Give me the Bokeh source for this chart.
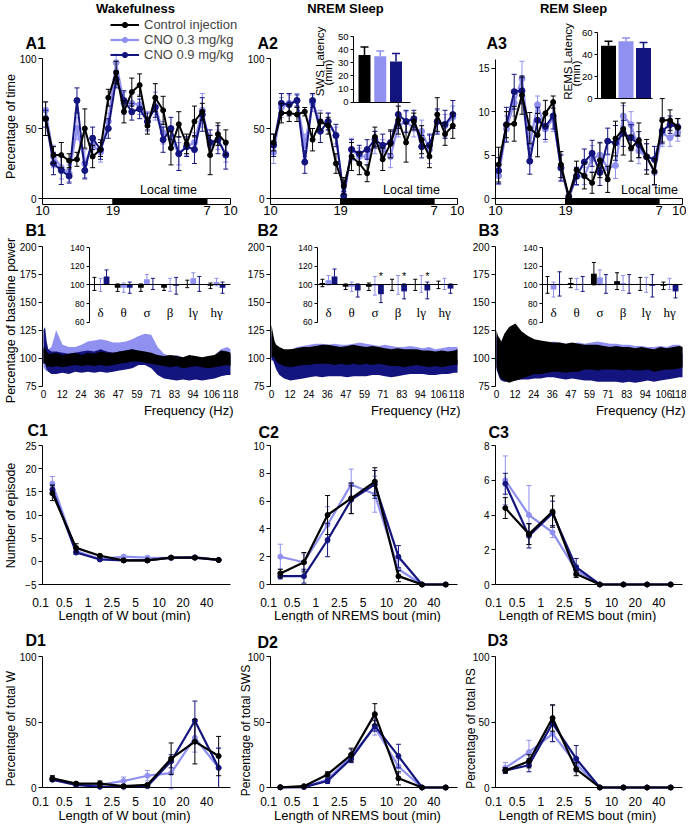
import math
import numpy as np
from bokeh.plotting import figure
from bokeh.models import Range1d, LinearAxis, FixedTicker, Legend, LegendItem
from bokeh.layouts import column, row
from bokeh.embed import file_html
from bokeh.resources import INLINE
from bokeh.core.properties import value

# ---------------------------------------------------------------- data
groups = ["Control injection", "CNO 0.3 mg/kg", "CNO 0.9 mg/kg"]

hour_bins = list(range(24))                 # hours after 10:00
time_ticks = [0, 9, 21, 24]
time_tick_labels = ["10", "19", "7", "10"]
phase_start = [0, 9, 21]
phase_end = [9, 21, 24]

# A1 wakefulness (% of time)
a1_ctrl = [57, 31, 31, 27, 28, 50, 30, 35, 72, 90, 62, 76, 81, 52, 72, 63, 36, 53, 39, 55, 62, 31, 46, 40]
a1_ctrl_err = [12, 6, 9, 5, 5, 14, 8, 5, 6, 8, 8, 10, 8, 6, 10, 10, 12, 9, 7, 11, 6, 14, 8, 9]
a1_low = [63, 30, 22, 18, 50, 25, 38, 33, 55, 97, 68, 68, 67, 55, 66, 47, 43, 32, 37, 40, 63, 38, 42, 32]
a1_low_err = [6, 8, 8, 6, 8, 10, 7, 7, 6, 6, 8, 8, 7, 7, 10, 8, 8, 8, 6, 7, 12, 8, 7, 6]
a1_high = [57, 25, 20, 16, 70, 20, 43, 35, 50, 85, 70, 62, 64, 55, 65, 42, 50, 32, 37, 35, 60, 40, 42, 31]
a1_high_err = [6, 8, 10, 5, 9, 6, 8, 7, 7, 6, 7, 6, 7, 6, 7, 9, 8, 12, 7, 10, 12, 9, 10, 10]

# A2 NREM sleep (% of time)
a2_ctrl = [40, 61, 61, 60, 62, 42, 55, 52, 25, 9, 30, 25, 18, 44, 28, 39, 56, 40, 55, 42, 30, 60, 46, 52]
a2_ctrl_err = [6, 7, 6, 5, 3, 8, 6, 6, 7, 6, 10, 8, 6, 7, 8, 10, 10, 14, 6, 10, 8, 12, 8, 9]
a2_low = [33, 65, 68, 70, 38, 68, 55, 55, 45, 0, 35, 30, 30, 40, 35, 30, 52, 55, 50, 48, 35, 55, 52, 58]
a2_low_err = [8, 7, 6, 5, 8, 6, 8, 6, 6, 4, 8, 6, 6, 8, 7, 8, 8, 7, 6, 8, 10, 8, 8, 8]
a2_high = [38, 68, 67, 70, 26, 70, 48, 55, 45, 2, 35, 32, 35, 42, 38, 40, 60, 55, 57, 37, 38, 55, 53, 60]
a2_high_err = [8, 7, 8, 4, 8, 5, 8, 6, 8, 3, 7, 6, 7, 6, 8, 8, 10, 8, 6, 8, 8, 9, 10, 10]

# A3 REM sleep (% of time)
a3_ctrl = [3.9, 8.5, 8.6, 11.9, 8.1, 7.3, 9.8, 11.1, 3.9, 0.3, 3.3, 2.6, 1.8, 4.4, 2.2, 6.9, 8.0, 5.8, 6.7, 4.8, 3.1, 9.0, 9.0, 8.2]
a3_ctrl_err = [2, 1.5, 2, 2.2, 1.8, 2.5, 1.5, 0.7, 1.5, 0.5, 1, 1.5, 1.2, 2, 1.5, 2, 3, 1.5, 2, 2, 1.5, 2.5, 1.2, 1]
a3_low = [2.6, 8.0, 11.0, 13.8, 6.3, 10.8, 8.0, 9.2, 3.6, 0.0, 2.5, 2.6, 4.6, 5.0, 3.5, 3.8, 9.5, 8.5, 5.5, 4.8, 3.0, 7.5, 7.0, 7.6]
a3_low_err = [1, 1.5, 1.5, 2, 1.5, 1, 1.5, 1.5, 1.5, 0.3, 1, 1, 1.5, 1.5, 1.5, 1.5, 1.2, 1.5, 1.5, 1.5, 1.5, 1.5, 1, 1]
a3_high = [3.2, 8.5, 12.3, 12.4, 4.3, 9.0, 8.3, 9.5, 3.5, 0.2, 2.6, 4.2, 5.2, 3.0, 6.6, 6.4, 7.5, 7.0, 6.2, 4.8, 4.5, 7.8, 8.5, 8.2]
a3_high_err = [1.5, 2, 2, 1.5, 1.5, 1.5, 1.5, 1.5, 1.5, 0.3, 1, 1.5, 1.5, 1.5, 1.5, 2, 1.5, 1.5, 1.5, 1.5, 1.5, 1.5, 1, 1]

# latency insets (min)
sws_latency = [36, 35, 31]
sws_latency_err = [6, 4, 6]
rems_latency = [48, 52, 46]
rems_latency_err = [4, 3, 5]
sws_lat_ticks = [0, 10, 20, 30, 40, 50]
rems_lat_ticks = [0, 20, 40, 60]

# B spectra (% of baseline power): lower / upper envelope of the traces
freq_hz = [0, 1, 2, 3, 5, 8, 12, 16, 20, 24, 28, 32, 36, 40, 44, 48, 52, 56, 60, 64,
           68, 72, 76, 80, 84, 88, 92, 96, 100, 104, 108, 112, 116, 118]
freq_ticks = [0, 11.8, 23.6, 35.4, 47.2, 59, 70.8, 82.6, 94.4, 106.2, 118]
freq_tick_labels = ["0", "12", "24", "36", "47", "59", "71", "83", "94", "106", "118"]
power_ticks = [75, 100, 125, 150, 175, 200]

b1_ctrl_lo = [95, 96, 92, 93, 92, 93, 92, 93, 94, 93, 94, 93, 94, 93, 94, 95, 96, 97, 97, 96, 95, 94, 93, 92, 93, 91, 92, 93, 92, 91, 92, 93, 94, 93]
b1_ctrl_hi = [108, 110, 106, 104, 104, 105, 103, 104, 105, 103, 105, 104, 106, 105, 105, 106, 107, 108, 107, 106, 105, 103, 102, 103, 102, 101, 103, 102, 101, 102, 103, 107, 106, 105]
b1_low_lo = [92, 90, 88, 90, 92, 95, 96, 97, 96, 98, 100, 101, 102, 100, 99, 100, 101, 102, 104, 105, 104, 95, 91, 90, 89, 88, 89, 90, 89, 88, 90, 94, 95, 94]
b1_low_hi = [110, 112, 110, 108, 110, 125, 112, 110, 110, 112, 115, 116, 117, 116, 114, 114, 115, 117, 120, 122, 121, 110, 104, 102, 103, 101, 102, 101, 100, 101, 103, 108, 110, 108]
b1_high_lo = [95, 95, 90, 88, 86, 86, 87, 86, 88, 87, 88, 87, 88, 87, 88, 89, 90, 91, 94, 94, 91, 85, 82, 81, 80, 81, 80, 81, 80, 81, 82, 84, 85, 85]
b1_high_hi = [125, 128, 115, 108, 106, 106, 105, 104, 105, 106, 107, 106, 108, 106, 105, 106, 107, 108, 106, 105, 104, 99, 97, 96, 97, 95, 96, 97, 96, 97, 98, 103, 104, 103]

b2_ctrl_lo = [100, 102, 100, 97, 95, 93, 92, 93, 94, 94, 95, 95, 95, 94, 95, 94, 95, 94, 95, 94, 95, 94, 93, 93, 92, 93, 94, 93, 92, 93, 92, 93, 94, 94]
b2_ctrl_hi = [130, 122, 115, 112, 110, 108, 108, 109, 110, 110, 111, 112, 112, 111, 110, 111, 112, 111, 110, 111, 110, 109, 108, 109, 108, 108, 108, 107, 107, 106, 107, 106, 107, 108]
b2_low_lo = [98, 100, 97, 94, 90, 88, 87, 87, 88, 88, 89, 89, 90, 89, 89, 88, 89, 89, 88, 89, 90, 89, 88, 88, 88, 89, 90, 89, 88, 89, 90, 89, 90, 90]
b2_low_hi = [125, 120, 114, 110, 108, 106, 107, 110, 111, 112, 113, 113, 112, 113, 112, 112, 113, 114, 113, 112, 111, 112, 111, 110, 110, 111, 110, 109, 110, 108, 109, 110, 110, 110]
b2_high_lo = [98, 98, 94, 90, 85, 82, 80, 81, 82, 83, 84, 83, 84, 84, 84, 83, 84, 84, 84, 85, 85, 84, 83, 84, 85, 86, 86, 86, 85, 85, 86, 86, 87, 87]
b2_high_hi = [120, 115, 110, 104, 100, 96, 94, 94, 95, 95, 96, 96, 96, 95, 96, 95, 96, 96, 96, 97, 98, 96, 95, 96, 97, 98, 98, 98, 97, 97, 98, 98, 99, 99]

b3_ctrl_lo = [92, 88, 84, 82, 80, 78, 80, 82, 84, 86, 86, 87, 88, 88, 87, 88, 88, 90, 90, 89, 90, 90, 90, 89, 90, 89, 89, 90, 88, 89, 90, 90, 91, 92]
b3_ctrl_hi = [125, 120, 118, 115, 122, 128, 131, 124, 120, 117, 116, 115, 114, 114, 113, 114, 113, 112, 112, 112, 111, 110, 111, 110, 110, 109, 110, 109, 108, 110, 109, 110, 111, 110]
b3_low_lo = [95, 90, 86, 84, 84, 84, 85, 86, 86, 86, 87, 86, 87, 87, 86, 87, 88, 88, 88, 88, 89, 90, 91, 90, 90, 90, 89, 90, 90, 89, 90, 90, 91, 90]
b3_low_hi = [122, 118, 114, 112, 114, 120, 125, 120, 116, 114, 114, 114, 115, 114, 113, 113, 114, 113, 114, 115, 114, 113, 113, 112, 112, 111, 111, 110, 110, 111, 110, 112, 112, 110]
b3_high_lo = [90, 86, 82, 80, 79, 79, 80, 81, 81, 82, 82, 83, 83, 82, 81, 82, 81, 80, 80, 79, 79, 79, 79, 78, 79, 78, 79, 80, 79, 80, 81, 82, 83, 83]
b3_high_hi = [120, 112, 108, 106, 108, 112, 115, 112, 108, 107, 106, 106, 107, 106, 105, 104, 104, 103, 102, 101, 100, 100, 100, 99, 100, 99, 100, 100, 100, 101, 102, 103, 104, 104]

# B insets: band power (% of baseline)
bands = ["δ", "θ", "σ", "β", "lγ", "hγ"]
band_pos = [0, 1, 2, 3, 4, 5]
inset_power_ticks = [60, 80, 100, 120, 140]
b1_band_ctrl = [101, 97, 97, 97, 101, 99]
b1_band_ctrl_err = [7, 4, 4, 3, 4, 3]
b1_band_low = [100, 97, 106, 100, 107, 103]
b1_band_low_err = [7, 5, 5, 7, 6, 4]
b1_band_high = [109, 97, 101, 99, 101, 97]
b1_band_high_err = [7, 6, 6, 9, 8, 6]
b2_band_ctrl = [102, 98, 98, 100, 100, 100]
b2_band_ctrl_err = [4, 3, 4, 6, 6, 4]
b2_band_low = [105, 98, 99, 100, 101, 101]
b2_band_low_err = [5, 5, 10, 10, 9, 6]
b2_band_high = [109, 94, 90, 93, 94, 96]
b2_band_high_err = [8, 7, 9, 8, 9, 5]
b2_star_bands = [2, 3, 4]
b3_band_ctrl = [100, 102, 112, 104, 101, 99]
b3_band_ctrl_err = [9, 5, 12, 9, 7, 4]
b3_band_low = [95, 101, 108, 102, 100, 101]
b3_band_low_err = [8, 6, 8, 8, 8, 6]
b3_band_high = [101, 101, 101, 101, 99, 93]
b3_band_high_err = [13, 8, 10, 10, 12, 7]

# C / D bout-length distributions
bout_bins = [0, 1, 2, 3, 4, 5, 6, 7]
bout_labels = ["0.1", "0.5", "1", "2.5", "5", "10", "20", "40"]

c1_ctrl = [14.7, 2.9, 1.2, 0.2, 0.2, 0.8, 0.8, 0.3]
c1_ctrl_err = [1.6, 0.9, 0.3, 0.1, 0.1, 0.3, 0.3, 0.1]
c1_low = [16.8, 2.2, 0.5, 1.0, 0.8, 0.7, 0.9, 0.3]
c1_low_err = [1.5, 0.5, 0.3, 0.3, 0.3, 0.2, 0.2, 0.1]
c1_high = [15.5, 1.9, 0.4, 0.2, 0.2, 0.8, 0.8, 0.3]
c1_high_err = [1.0, 0.4, 0.2, 0.1, 0.1, 0.2, 0.2, 0.1]

c2_ctrl = [0.8, 1.6, 5.0, 6.2, 7.4, 0.6, 0, 0]
c2_ctrl_err = [0.3, 0.7, 1.4, 1.1, 1.0, 0.4, 0, 0]
c2_low = [2.0, 1.6, 4.3, 7.2, 6.5, 1.1, 0, 0]
c2_low_err = [0.9, 0.6, 1.3, 1.1, 1.3, 0.6, 0, 0]
c2_high = [0.6, 0.6, 3.2, 6.1, 7.2, 2.0, 0, 0]
c2_high_err = [0.2, 0.5, 1.2, 1.0, 1.0, 0.8, 0, 0]

c3_ctrl = [4.4, 2.9, 4.2, 0.6, 0, 0, 0, 0]
c3_ctrl_err = [0.6, 0.6, 0.9, 0.2, 0, 0, 0, 0]
c3_low = [6.0, 4.0, 3.0, 0.8, 0, 0, 0, 0]
c3_low_err = [1.4, 1.7, 0.3, 0.3, 0, 0, 0, 0]
c3_high = [5.8, 2.8, 4.1, 1.0, 0, 0, 0, 0]
c3_high_err = [0.6, 0.7, 0.7, 0.5, 0, 0, 0, 0]

d1_ctrl = [7, 3, 3, 1, 2, 22, 35, 24]
d1_ctrl_err = [2, 1, 2, 1, 1, 12, 17, 15]
d1_low = [6, 2, 2, 5, 9, 11, 38, 15]
d1_low_err = [1, 1, 1, 3, 4, 12, 11, 15]
d1_high = [6, 2, 0.5, 0.5, 1, 20, 51, 15]
d1_high_err = [1, 1, 0.5, 0.5, 1, 5, 15, 15]

d2_ctrl = [0.2, 1, 10, 25, 56, 7, 0, 0]
d2_ctrl_err = [0.2, 0.5, 2, 5, 8, 5, 0, 0]
d2_low = [0.2, 0.5, 6, 24, 46, 16, 0, 0]
d2_low_err = [0.1, 0.3, 2, 5, 6, 5, 0, 0]
d2_high = [0.1, 0.3, 5, 22, 47, 24, 0, 0]
d2_high_err = [0.1, 0.2, 2, 3, 4, 9, 0, 0]

d3_ctrl = [13, 20, 53, 14, 0, 0, 0, 0]
d3_ctrl_err = [2, 5, 10, 5, 0, 0, 0, 0]
d3_low = [15, 27, 41, 18, 0, 0, 0, 0]
d3_low_err = [4, 9, 6, 5, 0, 0, 0, 0]
d3_high = [13, 17, 49, 22, 0, 0, 0, 0]
d3_high_err = [2, 5, 14, 10, 0, 0, 0, 0]

# ---------------------------------------------------------------- style / layout
BLACK = "#000000"
LIGHT = "#9090f0"
DARK = "#14147e"
SANS = "Liberation Sans"
SERIF = "Liberation Serif"

COLS = [dict(W=238, ax=42, right=230), dict(W=226, ax=32, right=219), dict(W=222, ax=31, right=218)]
H_A, H_B, H_C, H_D = 220, 198, 204, 210


def lin(p0, v0, p1, v1, size, flip=False):
    """Range so that value v0 sits at pixel p0 and v1 at p1 (y pixels from top if flip)."""
    if flip:
        p0, p1 = size - p0, size - p1
    s = (p1 - p0) / (v1 - v0)
    start = v0 - p0 / s
    return Range1d(start=start, end=start + size / s)


def at(r, p, size, flip=False):
    if flip:
        p = size - p
    return r.start + (r.end - r.start) * p / size


def make_fig(W, H, xr, yr):
    p = figure(width=W, height=H, x_range=xr, y_range=yr, toolbar_location=None,
               output_backend="svg", min_border_left=0, min_border_right=0,
               min_border_top=0, min_border_bottom=0)
    p.outline_line_color = None
    p.grid.visible = False
    p.background_fill_color = "white"
    p.border_fill_color = "white"
    p.extra_x_ranges = {"px": Range1d(0, W)}
    p.extra_y_ranges = {"px": Range1d(H, 0)}
    return p


def style_axis(ax, fs, standoff=2, tick_out=4, line=True, ticks=True):
    ax.axis_line_color = BLACK if line else None
    ax.axis_line_width = 1
    ax.major_tick_line_color = BLACK if ticks else None
    ax.major_tick_out = tick_out
    ax.major_tick_in = 0
    ax.minor_tick_line_color = None
    ax.major_label_text_font = SANS
    ax.major_label_text_font_size = f"{fs}px"
    ax.major_label_text_color = BLACK
    ax.major_label_standoff = standoff


def txt(p, x, y, s, fs, bold=False, align="center", base="middle", angle=0.0,
        font=SANS, xr="px", yr="px"):
    p.text(x=[x], y=[y], text=[s], x_range_name=xr, y_range_name=yr,
           text_font=value(font), text_font_size=f"{fs}px",
           text_font_style="bold" if bold else "normal",
           text_align=align, text_baseline=base, angle=angle, text_color=BLACK)


def series(p, x, y, err, color, lw=2.0, ms=5, cap=5, xr="default", yr="default"):
    x = np.asarray(x, float)
    y = np.asarray(y, float)
    e = np.asarray(err, float)
    kw = dict(x_range_name=xr, y_range_name=yr)
    p.segment(x0=x, y0=y - e, x1=x, y1=y + e, line_color=color, line_width=1, **kw)
    p.scatter(x=x, y=y + e, marker="dash", size=cap, line_color=color, line_width=1, **kw)
    p.scatter(x=x, y=y - e, marker="dash", size=cap, line_color=color, line_width=1, **kw)
    ln = p.line(x=x, y=y, line_color=color, line_width=lw, **kw)
    mk = p.scatter(x=x, y=y, marker="circle", size=ms, fill_color=color, line_color=color, **kw)
    return [ln, mk]


def panel_A(ci, lab, lab_x, title, title_x, data, yticks, ytop_px, ybound, local_x,
            ylabel=None, inset=None, legend=False):
    c = COLS[ci]
    W, H = c["W"], H_A
    zero_px, bar_px = 198, 204
    xr = lin(c["ax"], 0, c["right"], 24, W)
    yr = lin(zero_px, 0, ytop_px, yticks[-1], H, flip=True)
    p = make_fig(W, H, xr, yr)
    x = np.asarray(hour_bins) + 0.4
    (ctrl, ce), (low, le), (high, he) = data
    r_low = series(p, x, low, le, LIGHT, lw=2.2, ms=6)
    r_high = series(p, x, high, he, DARK, lw=2.0, ms=6)
    r_ctrl = series(p, x, ctrl, ce, BLACK, lw=2.0, ms=5)
    p.quad(left=phase_start, right=phase_end, top=[zero_px] * 3, bottom=[bar_px] * 3,
           fill_color=["white", BLACK, "white"], line_color=BLACK, line_width=1,
           y_range_name="px")
    ya = p.yaxis[0]
    ya.fixed_location = 0
    ya.ticker = FixedTicker(ticks=yticks)
    ya.bounds = (0, ybound)
    style_axis(ya, 10)
    xa = p.xaxis[0]
    xa.fixed_location = at(yr, bar_px, H, flip=True)
    xa.ticker = FixedTicker(ticks=time_ticks)
    xa.major_label_overrides = {t: l for t, l in zip(time_ticks, time_tick_labels)}
    style_axis(xa, 13, standoff=1, tick_out=0, line=False, ticks=False)

    txt(p, title_x, 8, title, 13, bold=True)
    txt(p, lab_x, 43, lab, 16, bold=True, align="left")
    txt(p, local_x, 189, "Local time", 12.5)
    if ylabel:
        txt(p, 10, 126, ylabel, 12.5, angle=math.pi / 2)

    if inset:
        g = inset
        ixr = lin(g["first_px"], 1, g["first_px"] + g["step_px"], 2, W)
        iyr = lin(g["zero_px"], 0, g["top_px"], g["ticks"][-1], H, flip=True)
        p.extra_x_ranges = {**p.extra_x_ranges, "ix": ixr}
        p.extra_y_ranges = {**p.extra_y_ranges, "iy": iyr}
        pos = [1, 2, 3]
        cols = [BLACK, LIGHT, DARK]
        vals, errs = g["vals"], g["errs"]
        tops = [v + e for v, e in zip(vals, errs)]
        p.vbar(x=pos, top=vals, bottom=0, width=g["bar_px"] / g["step_px"], fill_color=cols,
               line_color=None, x_range_name="ix", y_range_name="iy")
        p.segment(x0=pos, y0=vals, x1=pos, y1=tops, line_color=cols, line_width=1.5,
                  x_range_name="ix", y_range_name="iy")
        p.scatter(x=pos, y=tops, marker="dash", size=8, line_color=cols, line_width=1.5,
                  x_range_name="ix", y_range_name="iy")
        iya = LinearAxis(x_range_name="ix", y_range_name="iy")
        iya.fixed_location = at(ixr, g["axis_px"], W)
        iya.ticker = FixedTicker(ticks=g["ticks"])
        iya.bounds = (0, g["ticks"][-1])
        style_axis(iya, 9.5, tick_out=3)
        p.add_layout(iya, "left")
        ixa = LinearAxis(x_range_name="ix", y_range_name="iy")
        ixa.fixed_location = 0
        ixa.ticker = FixedTicker(ticks=[])
        ixa.bounds = (at(ixr, g["axis_px"], W), at(ixr, g["end_px"], W))
        style_axis(ixa, 9, tick_out=0, ticks=False)
        ixa.major_label_text_color = None
        p.add_layout(ixa, "below")
        txt(p, g["lx1"], g["ly1"], g["l1"], 11.5, angle=math.pi / 2)
        txt(p, g["lx2"], g["ly2"], "(min)", 11.5, angle=math.pi / 2)

    if legend:
        items = [LegendItem(label=groups[0], renderers=r_ctrl),
                 LegendItem(label=groups[1], renderers=r_low),
                 LegendItem(label=groups[2], renderers=r_high)]
        lg = Legend(items=items, location=(110, H - 62), orientation="vertical",
                    padding=0, margin=0, spacing=0, glyph_width=29, glyph_height=13,
                    label_height=13, label_standoff=5, label_text_font=SANS,
                    label_text_font_size="13px", border_line_color=None,
                    background_fill_alpha=0)
        p.add_layout(lg)
    return p


def panel_B(ci, lab, lab_x, spec, bars, stars=(), ylabel=None):
    c = COLS[ci]
    W, H, ax = c["W"], H_B, c["ax"]
    xr = lin(ax + 1, 0, c["right"], 118, W)
    yr = lin(165.7, 75, 26, 200, H, flip=True)
    p = make_fig(W, H, xr, yr)
    (blo, bhi), (llo, lhi), (dlo, dhi) = spec
    p.varea(x=freq_hz, y1=llo, y2=lhi, fill_color=LIGHT)
    p.varea(x=freq_hz, y1=dlo, y2=dhi, fill_color=DARK)
    p.varea(x=freq_hz, y1=blo, y2=bhi, fill_color=BLACK)
    ya = p.yaxis[0]
    ya.fixed_location = at(xr, ax, W)
    ya.ticker = FixedTicker(ticks=power_ticks)
    ya.bounds = (power_ticks[0], power_ticks[-1])
    style_axis(ya, 10)
    xa = p.xaxis[0]
    xa.fixed_location = power_ticks[0]
    xa.ticker = FixedTicker(ticks=freq_ticks)
    xa.major_label_overrides = {t: l for t, l in zip(freq_ticks, freq_tick_labels)}
    style_axis(xa, 10, standoff=4, tick_out=0, line=False, ticks=False)
    txt(p, c["right"] + 3, 190, "Frequency (Hz)", 13, align="right")
    txt(p, lab_x, 10, lab, 16, bold=True, align="left")
    if ylabel:
        txt(p, 10, 100, ylabel, 12.5, angle=math.pi / 2)

    # inset
    ixr = lin(ax + 58, 0, ax + 174, 5, W)
    iyr = lin(101.7, 60, 45.7, 120, H, flip=True)
    p.extra_x_ranges = {**p.extra_x_ranges, "ix": ixr}
    p.extra_y_ranges = {**p.extra_y_ranges, "iy": iyr}
    offs = [-0.26, 0.0, 0.26]
    cols = [BLACK, LIGHT, DARK]
    for k, (vals, errs) in enumerate(bars):
        xs = [b + offs[k] for b in band_pos]
        lo = [v - e for v, e in zip(vals, errs)]
        hi = [v + e for v, e in zip(vals, errs)]
        p.vbar(x=xs, bottom=100, top=vals, width=0.25, fill_color=cols[k], line_color=None,
               x_range_name="ix", y_range_name="iy")
        p.segment(x0=xs, y0=lo, x1=xs, y1=hi, line_color=cols[k], line_width=1,
                  x_range_name="ix", y_range_name="iy")
        p.scatter(x=xs + xs, y=lo + hi, marker="dash", size=4, line_color=cols[k],
                  line_width=1, x_range_name="ix", y_range_name="iy")
    iya = LinearAxis(x_range_name="ix", y_range_name="iy")
    iya.fixed_location = at(ixr, ax + 47, W)
    iya.ticker = FixedTicker(ticks=inset_power_ticks)
    iya.bounds = (inset_power_ticks[0], inset_power_ticks[-1])
    style_axis(iya, 8.5, tick_out=3)
    p.add_layout(iya, "left")
    ixa = LinearAxis(x_range_name="ix", y_range_name="iy")
    ixa.fixed_location = 100
    ixa.ticker = FixedTicker(ticks=[])
    ixa.bounds = (at(ixr, ax + 47, W), at(ixr, c["right"], W))
    style_axis(ixa, 9, tick_out=0, ticks=False)
    ixa.major_label_text_color = None
    p.add_layout(ixa, "below")
    p.text(x=band_pos, y=[70] * len(band_pos), text=bands, x_range_name="ix",
           y_range_name="iy", text_font=value(SERIF), text_font_size="13px",
           text_align="center", text_baseline="middle", text_color=BLACK)
    if stars:
        p.text(x=[b + offs[2] for b in stars], y=[109] * len(stars), text=["*"] * len(stars),
               x_range_name="ix", y_range_name="iy", text_font=value(SANS),
               text_font_size="11px", text_align="center", text_baseline="middle",
               text_color=BLACK)
    return p


def panel_CD(ci, H, base_px, top_px, lab, lab_x, lab_y, data, yticks, xlabel, xl_x, xl_y,
             std, ylabel=None, yl_y=100, yl_x=10, yl_fs=12.5):
    c = COLS[ci]
    W, ax = c["W"], c["ax"]
    xr = lin(ax - 2, 0, c["right"], 8.0, W)
    yr = lin(base_px, yticks[0], top_px, yticks[-1], H, flip=True)
    p = make_fig(W, H, xr, yr)
    x = np.asarray(bout_bins) + 0.5
    (ctrl, ce), (low, le), (high, he) = data
    series(p, x, low, le, LIGHT, lw=2.2, ms=5, cap=5)
    series(p, x, high, he, DARK, lw=2.2, ms=5, cap=5)
    series(p, x, ctrl, ce, BLACK, lw=2.2, ms=5, cap=5)
    ya = p.yaxis[0]
    ya.fixed_location = at(xr, ax, W)
    ya.ticker = FixedTicker(ticks=yticks)
    ya.bounds = (yticks[0], yticks[-1])
    style_axis(ya, 10)
    xa = p.xaxis[0]
    xa.fixed_location = yticks[0]
    xa.ticker = FixedTicker(ticks=bout_bins)
    xa.major_label_overrides = {b: l for b, l in zip(bout_bins, bout_labels)}
    xa.bounds = (at(xr, ax, W), 8.0)
    style_axis(xa, 12, standoff=std, tick_out=0, ticks=False)
    txt(p, xl_x, xl_y, xlabel, 13)
    txt(p, lab_x, lab_y, lab, 16, bold=True, align="left")
    if ylabel:
        txt(p, yl_x, yl_y, ylabel, yl_fs, angle=math.pi / 2)
    return p


# ---------------------------------------------------------------- panels
A1 = panel_A(0, "A1", 25, "Wakefulness", 135,
             [(a1_ctrl, a1_ctrl_err), (a1_low, a1_low_err), (a1_high, a1_high_err)],
             [0, 50, 100], 58, 100, 168, ylabel="Percentage of time", legend=True)
A2 = panel_A(1, "A2", 19, "NREM Sleep", 107,
             [(a2_ctrl, a2_ctrl_err), (a2_low, a2_low_err), (a2_high, a2_high_err)],
             [0, 50, 100], 58, 100, 173,
             inset=dict(axis_px=115, zero_px=101.7, top_px=36, first_px=126, step_px=15.75,
                        bar_px=12, end_px=172, ticks=sws_lat_ticks, vals=sws_latency,
                        errs=sws_latency_err, l1="SWS Latency", lx1=81, ly1=61, lx2=89, ly2=72))
A3 = panel_A(2, "A3", 22, "REM Sleep", 109,
             [(a3_ctrl, a3_ctrl_err), (a3_low, a3_low_err), (a3_high, a3_high_err)],
             [0, 5, 10, 15], 67.7, 16, 185,
             inset=dict(axis_px=133, zero_px=98, top_px=32, first_px=144, step_px=17.5,
                        bar_px=15, end_px=188, ticks=rems_lat_ticks, vals=rems_latency,
                        errs=rems_latency_err, l1="REMS Latency", lx1=103, ly1=61, lx2=111, ly2=73))

B1 = panel_B(0, "B1", 25,
             [(b1_ctrl_lo, b1_ctrl_hi), (b1_low_lo, b1_low_hi), (b1_high_lo, b1_high_hi)],
             [(b1_band_ctrl, b1_band_ctrl_err), (b1_band_low, b1_band_low_err),
              (b1_band_high, b1_band_high_err)],
             ylabel="Percentage of baseline power")
B2 = panel_B(1, "B2", 19,
             [(b2_ctrl_lo, b2_ctrl_hi), (b2_low_lo, b2_low_hi), (b2_high_lo, b2_high_hi)],
             [(b2_band_ctrl, b2_band_ctrl_err), (b2_band_low, b2_band_low_err),
              (b2_band_high, b2_band_high_err)], stars=b2_star_bands)
B3 = panel_B(2, "B3", 14,
             [(b3_ctrl_lo, b3_ctrl_hi), (b3_low_lo, b3_low_hi), (b3_high_lo, b3_high_hi)],
             [(b3_band_ctrl, b3_band_ctrl_err), (b3_band_low, b3_band_low_err),
              (b3_band_high, b3_band_high_err)])

C1 = panel_CD(0, H_C, 166, 27, "C1", 27, 12,
              [(c1_ctrl, c1_ctrl_err), (c1_low, c1_low_err), (c1_high, c1_high_err)],
              [-5, 0, 5, 10, 15, 20, 25], "Length of W bout (min)", 124, 197, 13,
              ylabel="Number of episode", yl_y=97)
C2 = panel_CD(1, H_C, 166, 27, "C2", 20, 14,
              [(c2_ctrl, c2_ctrl_err), (c2_low, c2_low_err), (c2_high, c2_high_err)],
              [0, 2, 4, 6, 8, 10], "Length of NREMS bout (min)", 119, 197, 13)
C3 = panel_CD(2, H_C, 166, 27, "C3", 24, 14,
              [(c3_ctrl, c3_ctrl_err), (c3_low, c3_low_err), (c3_high, c3_high_err)],
              [0, 2, 4, 6, 8], "Length of REMS bout (min)", 113, 197, 13)

D1 = panel_CD(0, H_D, 165, 34, "D1", 25, 18,
              [(d1_ctrl, d1_ctrl_err), (d1_low, d1_low_err), (d1_high, d1_high_err)],
              [0, 50, 100], "Length of W bout (min)", 124, 193, 9,
              ylabel="Percentage of total W", yl_y=106, yl_fs=12)
D2 = panel_CD(1, H_D, 165, 34, "D2", 19, 20,
              [(d2_ctrl, d2_ctrl_err), (d2_low, d2_low_err), (d2_high, d2_high_err)],
              [0, 50, 100], "Length of NREMS bout (min)", 119, 193, 9,
              ylabel="Percentage of total SWS", yl_y=108, yl_x=7, yl_fs=12)
D3 = panel_CD(2, H_D, 165, 34, "D3", 23, 18,
              [(d3_ctrl, d3_ctrl_err), (d3_low, d3_low_err), (d3_high, d3_high_err)],
              [0, 50, 100], "Length of REMS bout (min)", 113, 193, 9,
              ylabel="Percentage of total RS", yl_y=106, yl_x=6, yl_fs=12)

layout = column(row(A1, A2, A3), row(B1, B2, B3), row(C1, C2, C3), row(D1, D2, D3))
open("out.html", "w").write(file_html(layout, INLINE, "Figure"))
